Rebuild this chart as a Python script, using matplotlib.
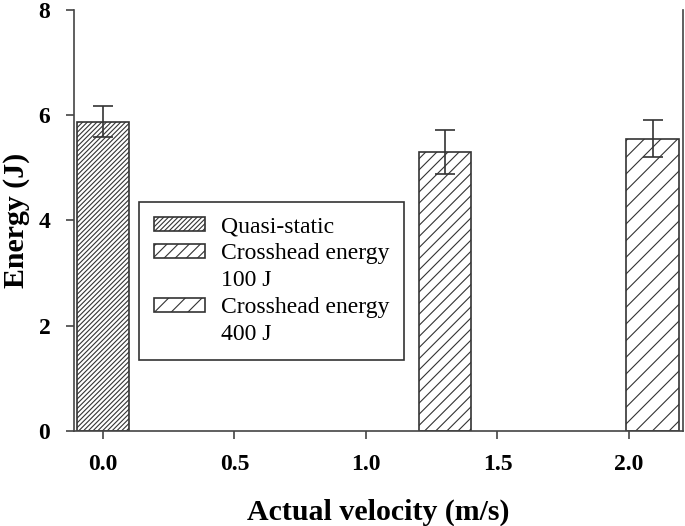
import numpy as np
import matplotlib.pyplot as plt
from matplotlib.patches import Patch

plt.rcParams['font.family'] = ['Liberation Serif', 'DejaVu Serif']
plt.rcParams['hatch.linewidth'] = 0.8

labels = ["Quasi-static", "Crosshead energy\n100 J", "Crosshead energy\n400 J"]
velocity = [0.0, 1.3, 2.09]
energy = [5.88, 5.30, 5.55]
err = [0.30, 0.42, 0.35]
hatches = ['/' * 7, '///', '//']

fig = plt.figure(figsize=(6.85, 5.26), dpi=100)
ax = fig.add_axes([0.108, 0.181, 0.889, 0.80])

bars = []
for v, e, s, h, lab in zip(velocity, energy, err, hatches, labels):
    b = ax.bar(v, e, width=0.2, color='white', edgecolor='#333333', linewidth=1.2,
               hatch=h, yerr=s, capsize=7,
               error_kw=dict(ecolor='#333333', elinewidth=1.2, capthick=1.2))
    bars.append(b)

ax.set_xlim(-0.11, 2.205)
ax.set_ylim(0, 8)
ax.set_xticks([0.0, 0.5, 1.0, 1.5, 2.0])
ax.set_xticklabels(["0.0", "0.5", "1.0", "1.5", "2.0"])
ax.set_yticks([0, 2, 4, 6, 8])
ax.spines['top'].set_visible(False)
for sp in ['left', 'bottom', 'right']:
    ax.spines[sp].set_color('#444444')
    ax.spines[sp].set_linewidth(1.2)
ax.tick_params(direction='out', length=6, width=1.2, color='#444444',
               labelsize=17)
ax.tick_params(axis='x', pad=11)
ax.tick_params(axis='y', pad=11)
for t in ax.get_xticklabels() + ax.get_yticklabels():
    t.set_fontweight('bold')

ax.set_xlabel("Actual velocity (m/s)", fontsize=21.5, fontweight='bold', labelpad=17)
ax.set_ylabel("Energy (J)", fontsize=21.5, fontweight='bold', labelpad=6)

# legend: handle sits next to the first line of each label
handles, texts = [], []
for b, lab in zip(bars, labels):
    lines = lab.split("\n")
    handles.append(b.patches[0])
    texts.append(lines[0])
    for extra in lines[1:]:
        handles.append(Patch(facecolor='none', edgecolor='none'))
        texts.append(extra)

leg = ax.legend(handles, texts, loc='upper left', bbox_to_anchor=(0.107, 0.544),
                fontsize=17, fancybox=False, edgecolor='#333333', framealpha=1,
                handlelength=2.15, handleheight=0.5, labelspacing=0.25,
                borderpad=0.62, handletextpad=0.7, borderaxespad=0)
leg.get_frame().set_linewidth(1.2)

fig.savefig("out.png", dpi=100)
